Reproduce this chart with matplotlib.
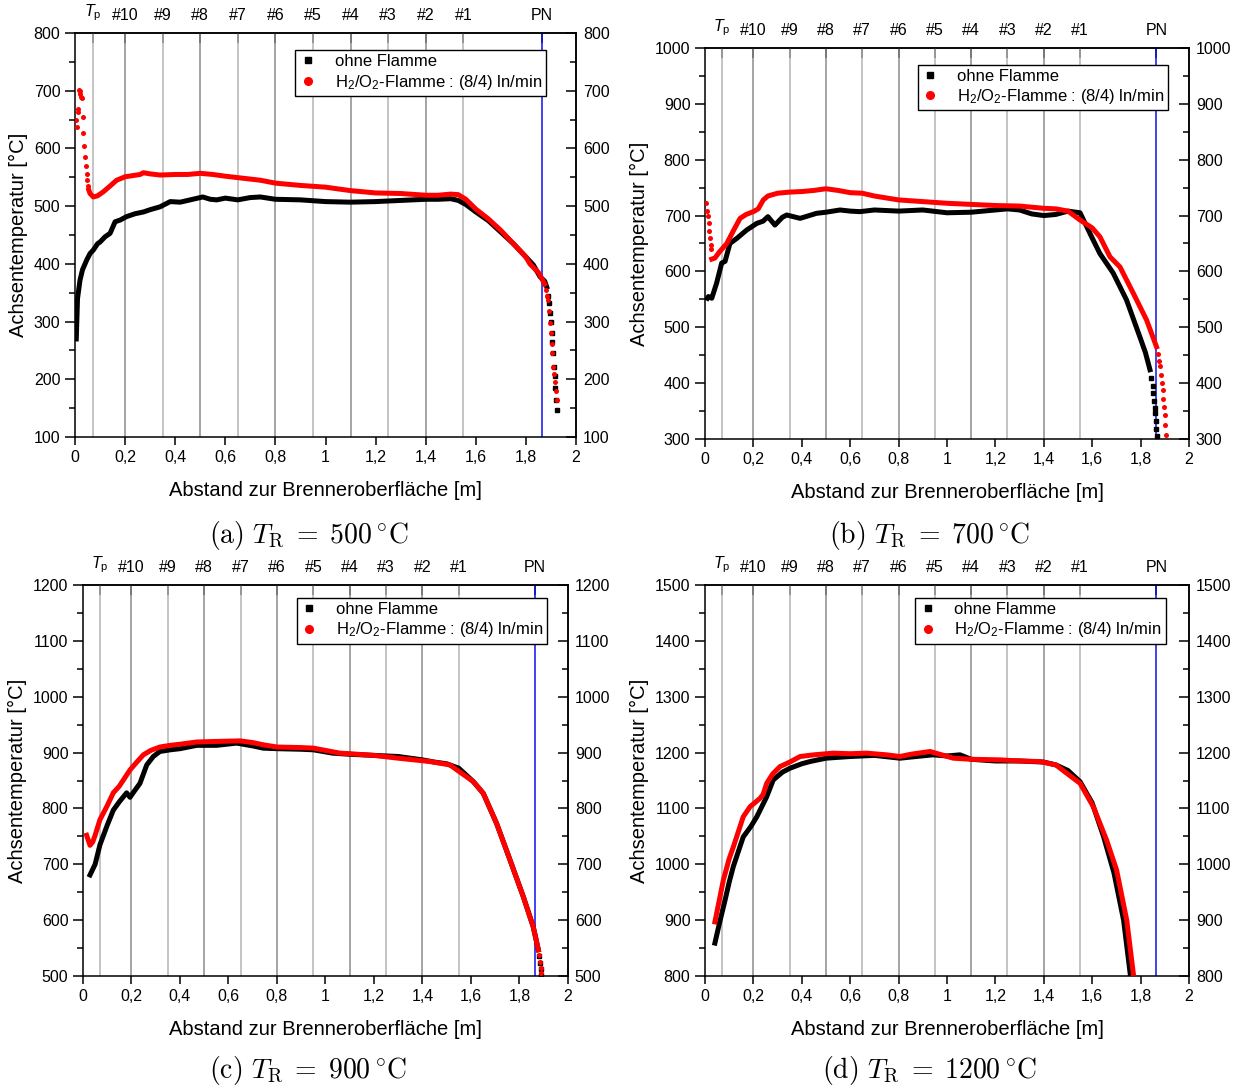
import matplotlib
matplotlib.use("Agg")
import matplotlib.pyplot as plt
import matplotlib.ticker as mtick

plt.rcParams["font.family"] = ["Liberation Sans", "DejaVu Sans"]
plt.rcParams["mathtext.fontset"] = "custom"
plt.rcParams["mathtext.rm"] = "Liberation Sans"
plt.rcParams["mathtext.it"] = "Liberation Sans:italic"
plt.rcParams["axes.linewidth"] = 1.1

# probe positions (top labels) and the PN position
probe_pos = [0.07, 0.2, 0.35, 0.5, 0.65, 0.8, 0.95, 1.1, 1.25, 1.4, 1.55]
pn_pos = 1.865
top_labels = [r"$T_\mathrm{p}$", "#10", "#9", "#8", "#7", "#6", "#5", "#4", "#3", "#2", "#1", "PN"]

# ---- (a) T_R = 500 °C
a_black_x = [0.005, 0.01, 0.02, 0.03, 0.047, 0.06, 0.073, 0.09, 0.1, 0.12, 0.14, 0.16, 0.18, 0.206, 0.24,
             0.273, 0.3, 0.34, 0.38, 0.42, 0.46, 0.51, 0.54, 0.566, 0.6, 0.65, 0.7, 0.74, 0.8, 0.9, 1.0,
             1.1, 1.2, 1.3, 1.4, 1.45, 1.5, 1.53, 1.56, 1.6, 1.65, 1.7, 1.75, 1.8, 1.83, 1.856, 1.875, 1.883]
a_black_y = [270, 340, 372, 390, 407, 418, 424, 435, 438, 447, 453, 473, 476, 482, 487,
             490, 494, 499, 508, 507, 511, 516, 512, 511, 514, 511, 515, 516, 512, 511, 508,
             507, 508, 510, 512, 512, 513, 510, 503, 490, 475, 455, 435, 412, 398, 378, 370, 360]
a_black_dx = [1.888, 1.893, 1.897, 1.9, 1.903, 1.906, 1.909, 1.912, 1.915, 1.918, 1.92, 1.923]
a_black_dy = [345, 332, 315, 300, 280, 265, 245, 222, 205, 185, 165, 147]
a_red_dx = [0.004, 0.007, 0.01, 0.013, 0.016, 0.018, 0.021, 0.024, 0.027, 0.03, 0.033, 0.036,
            0.04, 0.043, 0.046, 0.049, 0.052]
a_red_dy = [650, 638, 668, 664, 702, 700, 695, 690, 687, 655, 626, 605, 586, 570, 556, 545, 535]
a_red_x = [0.055, 0.06, 0.073, 0.09, 0.113, 0.14, 0.166, 0.2, 0.23, 0.26, 0.273, 0.3, 0.34, 0.4, 0.45,
           0.5, 0.55, 0.6, 0.66, 0.74, 0.8, 0.9, 1.0, 1.1, 1.2, 1.3, 1.4, 1.45, 1.5, 1.53, 1.56, 1.6,
           1.65, 1.7, 1.75, 1.8, 1.816, 1.85, 1.875]
a_red_y = [528, 522, 516, 518, 525, 535, 545, 551, 553, 555, 558, 556, 554, 555, 555,
           557, 555, 552, 549, 545, 540, 536, 533, 527, 523, 522, 519, 519, 521, 520, 512, 495,
           478, 458, 435, 412, 400, 385, 365]
a_red_tx = [1.88, 1.884, 1.889, 1.893, 1.896, 1.9, 1.903, 1.906, 1.909, 1.913, 1.917, 1.921, 1.925]
a_red_ty = [355, 345, 337, 318, 297, 280, 262, 245, 222, 210, 195, 180, 165]

# ---- (b) T_R = 700 °C
b_black_x = [0.01, 0.014, 0.028, 0.048, 0.069, 0.083, 0.103, 0.131, 0.172, 0.214, 0.24, 0.26, 0.289,
             0.32, 0.338, 0.393, 0.461, 0.5, 0.558, 0.6, 0.64, 0.7, 0.8, 0.9, 1.0, 1.1, 1.2, 1.25,
             1.3, 1.35, 1.4, 1.45, 1.5, 1.55, 1.6, 1.632, 1.687, 1.742, 1.797, 1.82, 1.839]
b_black_y = [552, 555, 552, 579, 615, 618, 650, 659, 674, 686, 690, 698, 683,
             697, 701, 695, 704, 706, 710, 708, 707, 710, 708, 710, 705, 706, 710, 712,
             710, 703, 700, 702, 708, 705, 660, 632, 597, 549, 483, 455, 424]
b_black_dx = [1.845, 1.85, 1.853, 1.856, 1.858, 1.86, 1.862, 1.864, 1.866]
b_black_dy = [410, 395, 382, 368, 355, 346, 332, 318, 305]
b_red_dx = [0.006, 0.01, 0.013, 0.016, 0.018, 0.021, 0.023, 0.025]
b_red_dy = [722, 708, 700, 686, 672, 660, 648, 640]
b_red_x = [0.028, 0.041, 0.06, 0.09, 0.12, 0.145, 0.17, 0.2, 0.22, 0.241, 0.26, 0.3, 0.35, 0.4,
           0.45, 0.5, 0.55, 0.6, 0.65, 0.7, 0.8, 0.9, 1.0, 1.1, 1.2, 1.3, 1.4, 1.45, 1.5, 1.55,
           1.6, 1.632, 1.674, 1.715, 1.77, 1.825, 1.866]
b_red_y = [622, 624, 635, 650, 675, 695, 702, 707, 712, 728, 735, 740, 742, 743,
           745, 748, 745, 741, 740, 735, 728, 725, 722, 720, 718, 717, 713, 712, 708, 692,
           678, 662, 626, 608, 561, 513, 465]
b_red_tx = [1.872, 1.876, 1.88, 1.884, 1.888, 1.891, 1.894, 1.897, 1.9, 1.903, 1.905]
b_red_ty = [452, 440, 430, 415, 400, 388, 372, 358, 343, 325, 307]

# ---- (c) T_R = 900 °C
c_black_x = [0.029, 0.05, 0.07, 0.1, 0.125, 0.15, 0.18, 0.194, 0.21, 0.235, 0.263, 0.29, 0.317,
             0.36, 0.4, 0.469, 0.55, 0.634, 0.7, 0.743, 0.8, 0.9, 0.95, 1.03, 1.1, 1.2, 1.3,
             1.4, 1.45, 1.5, 1.55, 1.61, 1.651, 1.706, 1.761, 1.816, 1.857, 1.878]
c_black_y = [681, 700, 735, 770, 797, 812, 828, 820, 830, 845, 878, 893, 902,
             905, 907, 913, 913, 917, 912, 908, 907, 906, 905, 899, 897, 895, 893,
             887, 883, 880, 872, 848, 827, 773, 708, 642, 588, 547]
c_black_dx = [1.882, 1.885, 1.888, 1.891]
c_black_dy = [535, 524, 512, 502]
c_red_x = [0.015, 0.029, 0.04, 0.05, 0.07, 0.1, 0.125, 0.15, 0.194, 0.22, 0.249, 0.28, 0.317, 0.36,
           0.4, 0.469, 0.55, 0.647, 0.7, 0.743, 0.8, 0.9, 0.95, 1.06, 1.1, 1.2, 1.3, 1.431, 1.513,
           1.61, 1.651, 1.706, 1.761, 1.816, 1.857, 1.878]
c_red_y = [752, 734, 740, 752, 780, 805, 828, 840, 869, 882, 896, 904, 910, 913,
           915, 919, 920, 921, 918, 914, 910, 909, 908, 899, 898, 895, 890, 884, 878,
           848, 827, 773, 708, 642, 588, 547]
c_red_tx = [1.882, 1.885, 1.888, 1.891]
c_red_ty = [538, 526, 515, 505]

# ---- (d) T_R = 1200 °C
d_black_x = [0.041, 0.06, 0.083, 0.1, 0.117, 0.158, 0.19, 0.214, 0.255, 0.282, 0.32, 0.351, 0.4,
             0.434, 0.5, 0.6, 0.7, 0.806, 0.85, 0.942, 1.0, 1.054, 1.1, 1.2, 1.3, 1.4, 1.45, 1.5,
             1.55, 1.6, 1.647, 1.69, 1.73, 1.757]
d_black_y = [859, 895, 936, 968, 996, 1049, 1068, 1085, 1121, 1151, 1165, 1172, 1180,
             1184, 1190, 1193, 1195, 1190, 1192, 1196, 1194, 1196, 1188, 1185, 1185, 1183, 1178, 1168,
             1148, 1110, 1050, 985, 900, 805]
d_red_x = [0.041, 0.076, 0.1, 0.117, 0.158, 0.186, 0.227, 0.24, 0.255, 0.28, 0.31, 0.35, 0.393,
           0.45, 0.53, 0.6, 0.668, 0.75, 0.806, 0.85, 0.93, 1.026, 1.1, 1.219, 1.3, 1.384, 1.45,
           1.495, 1.55, 1.605, 1.66, 1.701, 1.743, 1.77]
d_red_y = [897, 972, 1010, 1031, 1085, 1103, 1118, 1125, 1145, 1162, 1175, 1183, 1193,
           1196, 1199, 1198, 1199, 1196, 1193, 1197, 1202, 1190, 1188, 1187, 1185, 1184, 1178,
           1163, 1145, 1103, 1043, 990, 900, 805]

panels = [
    dict(rect=[0.0602, 0.5983, 0.4021, 0.3713], ylim=(100, 800), temp="500",
         tag="a", leg=(0.940, 0.958), cap=(0.2475, 0.508),
         black=(a_black_x, a_black_y), black_dots=(a_black_dx, a_black_dy),
         red=(a_red_x, a_red_y), red_dots=(a_red_dx + a_red_tx, a_red_dy + a_red_ty)),
    dict(rect=[0.5658, 0.5965, 0.3884, 0.3594], ylim=(300, 1000), temp="700",
         tag="b", leg=(0.957, 0.957), cap=(0.746, 0.508),
         black=(b_black_x, b_black_y), black_dots=(b_black_dx, b_black_dy),
         red=(b_red_x, b_red_y), red_dots=(b_red_dx + b_red_tx, b_red_dy + b_red_ty)),
    dict(rect=[0.0666, 0.1029, 0.3892, 0.3594], ylim=(500, 1200), temp="900",
         tag="c", leg=(0.957, 0.967), cap=(0.2475, 0.0165),
         black=(c_black_x, c_black_y), black_dots=(c_black_dx, c_black_dy),
         red=(c_red_x, c_red_y), red_dots=(c_red_tx, c_red_ty)),
    dict(rect=[0.5658, 0.1029, 0.3884, 0.3594], ylim=(800, 1500), temp="1200",
         tag="d", leg=(0.952, 0.967), cap=(0.746, 0.0165),
         black=(d_black_x, d_black_y), black_dots=([], []),
         red=(d_red_x, d_red_y), red_dots=([], [])),
]


def comma_fmt(v, pos):
    return ("%g" % v).replace(".", ",")


def draw_panel(fig, p):
    ax = fig.add_axes(p["rect"])
    ax.set_xlim(0, 2)
    ax.set_ylim(*p["ylim"])

    for i, xp in enumerate(probe_pos):
        ax.axvline(xp, color="#8c8c8c" if i % 2 else "#b4b4b4", lw=1.1, zorder=1)
    ax.axvline(pn_pos, color="#1010ee", lw=1.1, zorder=1)

    bx, by = p["black"]
    ax.plot(bx, by, color="black", lw=3.6, solid_joinstyle="round", zorder=3)
    ax.plot(*p["black_dots"], ls="none", marker="s", ms=3, color="black", zorder=3)
    rx, ry = p["red"]
    ax.plot(rx, ry, color="#ff0000", lw=3.6, solid_joinstyle="round", zorder=4)
    ax.plot(*p["red_dots"], ls="none", marker="o", ms=3.6, mec="none", color="#ff0000", zorder=4)

    # legend proxies
    ax.plot([], [], ls="none", marker="s", ms=5, color="black", label="ohne Flamme")
    ax.plot([], [], ls="none", marker="o", ms=5.5, color="#ff0000",
            label=r"H$_2$/O$_2$-Flamme : (8/4) ln/min")
    leg = ax.legend(loc="upper right", bbox_to_anchor=p["leg"], fontsize=12, frameon=True,
                    fancybox=False, edgecolor="black", framealpha=1, handlelength=1.0,
                    handletextpad=1.1, borderpad=0.25, labelspacing=0.2, borderaxespad=0)
    leg.get_frame().set_linewidth(1.0)

    ax.xaxis.set_major_locator(mtick.MultipleLocator(0.2))
    ax.xaxis.set_major_formatter(mtick.FuncFormatter(comma_fmt))
    ax.yaxis.set_major_locator(mtick.MultipleLocator(100))
    ax.yaxis.set_minor_locator(mtick.MultipleLocator(50))
    ax.tick_params(axis="x", which="major", direction="out", length=6, width=1.1, labelsize=11.5)
    ax.tick_params(axis="y", which="major", direction="out", length=7, width=1.1, labelsize=11.5)
    ax.tick_params(axis="y", which="minor", direction="out", length=4, width=1.1)

    ax.set_xlabel("Abstand zur Brenneroberfläche [m]", fontsize=14.5, labelpad=11.5)
    ax.set_ylabel("Achsentemperatur [°C]", fontsize=14.5, labelpad=4)

    sec_y = ax.secondary_yaxis("right")
    sec_y.yaxis.set_major_locator(mtick.MultipleLocator(100))
    sec_y.yaxis.set_minor_locator(mtick.MultipleLocator(50))
    sec_y.tick_params(which="major", direction="in", length=7, width=1.1, labelsize=11.5, pad=5)
    sec_y.tick_params(which="minor", direction="in", length=4, width=1.1)
    sec_y.yaxis.get_offset_text().set_visible(False)

    sec_x = ax.secondary_xaxis("top")
    sec_x.set_xticks(probe_pos + [pn_pos], labels=top_labels)
    sec_x.tick_params(direction="in", length=7, width=1.1, labelsize=11.5, pad=7)
    sec_x.xaxis.get_offset_text().set_visible(False)

    fig.text(p["cap"][0], p["cap"][1],
             r"$\mathrm{(%s)}\ T_\mathrm{R}\;=\;%s\,{}^{\circ}\mathrm{C}$" % (p["tag"], p["temp"]),
             ha="center", va="center", fontsize=20, math_fontfamily="cm")
    return ax


def main():
    fig = plt.figure(figsize=(12.46, 10.88), dpi=100)
    for p in panels:
        draw_panel(fig, p)
    fig.savefig("out.png", dpi=100)


if __name__ == "__main__":
    main()
